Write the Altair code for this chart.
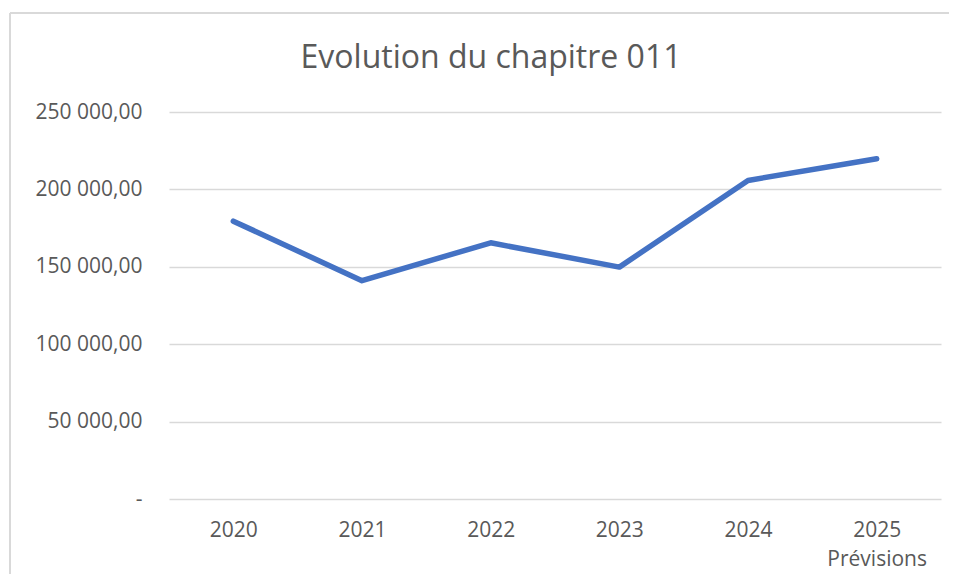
import altair as alt
import pandas as pd

years = ["2020", "2021", "2022", "2023", "2024", "2025"]
values = [179500, 141000, 165500, 149800, 205800, 219800]
tick_values = [0, 50000, 100000, 150000, 200000, 250000]
tick_labels = ["-\u00a0\u00a0", "50 000,00", "100 000,00", "150 000,00", "200 000,00", "250 000,00"]
x_extra = {"2025": "Prévisions"}

df = pd.DataFrame({"annee": years, "montant": values})

y_expr = " : ".join(
    f"datum.value == {v} ? '{l}'" for v, l in zip(tick_values, tick_labels)
) + " : ''"
x_expr = " : ".join(
    f"datum.value == '{k}' ? ['{k}', '{v}']" for k, v in x_extra.items()
) + " : datum.value"

FONT = "Open Sans"
TXT = "#595959"
GRID = "#D9D9D9"

line = alt.Chart(df).mark_line(
    color="#4472C4", strokeWidth=5.5, strokeCap="round", strokeJoin="round"
).encode(
    x=alt.X("annee:O", sort=years, scale=alt.Scale(type="point", padding=0.5),
            axis=alt.Axis(title=None, labelAngle=0, domain=False, ticks=False,
                          labelPadding=20, labelExpr=x_expr, labelFont=FONT,
                          labelFontSize=21, labelColor=TXT, labelLineHeight=29,
                          grid=False)),
    y=alt.Y("montant:Q", scale=alt.Scale(domain=[0, 250000], nice=False),
            axis=alt.Axis(title=None, values=tick_values, labelExpr=y_expr,
                          domain=False, ticks=False, labelPadding=27,
                          labelFont=FONT, labelFontSize=21, labelColor=TXT,
                          grid=True, gridColor=GRID, gridWidth=1.5)),
)

frame_df = pd.DataFrame({"k": [0]})
left_border = alt.Chart(frame_df).mark_rule(color=GRID, strokeWidth=2).encode(
    x=alt.value(-159), y=alt.value(-99), y2=alt.value(500)
)
top_border = alt.Chart(frame_df).mark_rule(color=GRID, strokeWidth=2).encode(
    x=alt.value(-159), x2=alt.value(800), y=alt.value(-99)
)

chart = alt.layer(left_border, top_border, line).properties(
    width=772,
    height=387,
    title=alt.TitleParams(text="Evolution du chapitre 011", font=FONT, fontSize=32,
                          fontWeight="normal", color=TXT, anchor="middle",
                          baseline="alphabetic", dx=-64, offset=-88),
    autosize=alt.AutoSizeParams(type="none"),
    padding={"left": 161, "top": 104, "right": 8, "bottom": 75},
    background="white",
).configure_view(strokeWidth=0)

chart.save("out.html", embed_options={"renderer": "svg", "actions": False})
